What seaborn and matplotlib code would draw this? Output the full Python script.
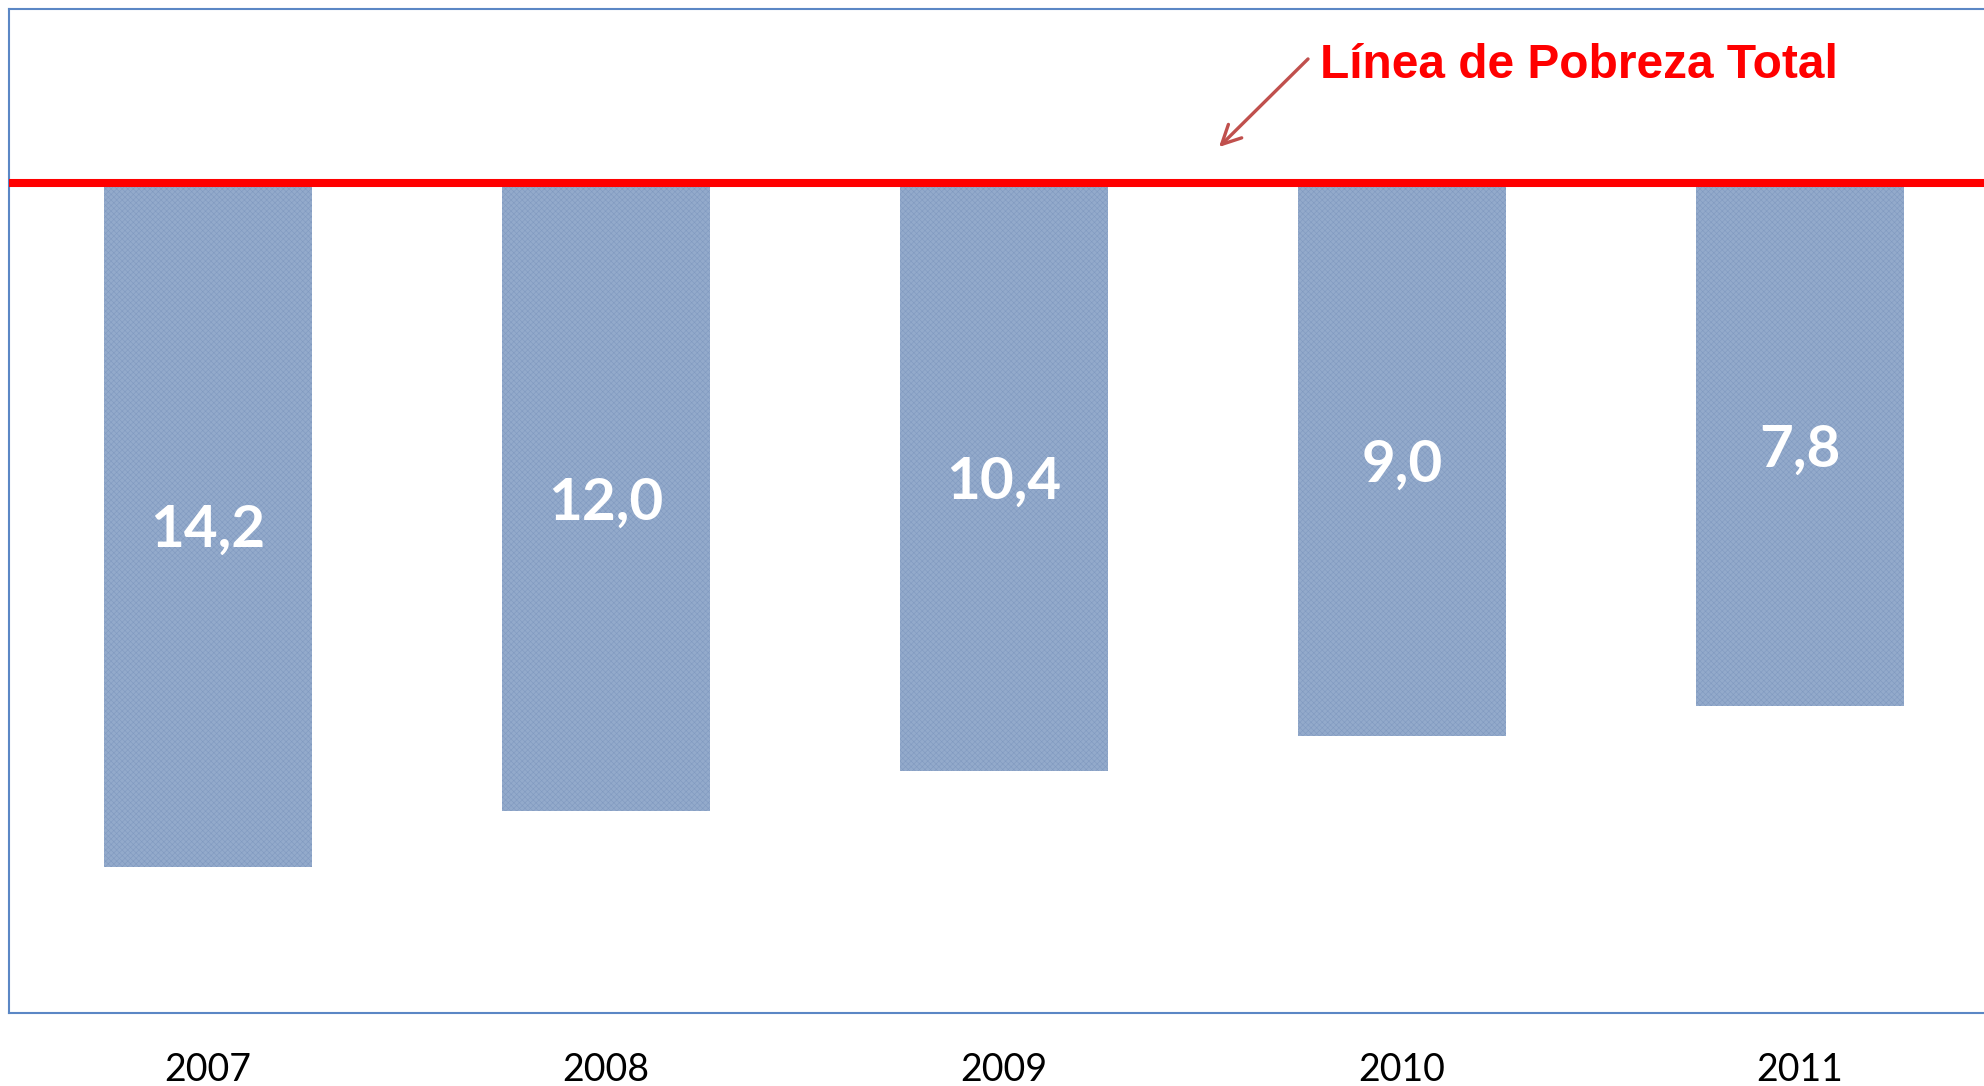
import numpy as np
import pandas as pd
import matplotlib
matplotlib.use("Agg")
import matplotlib.pyplot as plt
import seaborn as sns

# données
annees = ["2007", "2008", "2009", "2010", "2011"]
valeurs = [14.2, 12.0, 10.4, 9.0, 7.8]
etiquettes = ["14,2", "12,0", "10,4", "9,0", "7,8"]
titre_ligne = "Línea de Pobreza Total"

# l'axe vertical est inversé et les barres partent du minimum de l'axe
eje_min = -12.94
y_haut, y_bas = -19.85, 20.0

df = pd.DataFrame({"anio": annees, "valor": valeurs})
df["alto"] = df["valor"] - eje_min

sns.set_theme(style="white")
plt.rcParams["font.family"] = ["Lato", "DejaVu Sans"]
plt.rcParams["hatch.linewidth"] = 0.4

fig = plt.figure(figsize=(19.84, 10.86), dpi=100)
ax = fig.add_axes([9 / 1984, 73 / 1086, 1990 / 1984, 1004 / 1086])

sns.barplot(
    data=df, x="anio", y="alto", bottom=eje_min,
    color="#93AACB", width=0.523, errorbar=None, ax=ax,
    saturation=1, linewidth=0, zorder=2,
)
for barre in ax.patches:
    barre.set_hatch("xxxxxx")
    barre.set_edgecolor("#819AC0")

textes = ax.bar_label(ax.containers[0], labels=etiquettes, label_type="center",
                      color="white", fontsize=42, fontweight="bold",
                      family=["Lato", "DejaVu Sans"])
for t in textes:
    t.xyann = (0, -4)

ax.axhline(eje_min, color="#FF0000", lw=5.8, zorder=4)

ax.set_xlim(-0.5, 4.5)
ax.set_ylim(y_bas, y_haut)
ax.set_xlabel("")
ax.set_ylabel("")
ax.set_yticks([])
ax.tick_params(axis="x", length=0, pad=28, labelsize=27, labelcolor="black")

for s in ax.spines.values():
    s.set_visible(True)
    s.set_color("#5B87C5")
    s.set_linewidth(1.5)

fig.text(1320 / 1984, 1 - 78 / 1086, titre_ligne, color="#FF0000",
         fontsize=34.5, fontweight="bold", family=["Liberation Sans", "DejaVu Sans"],
         va="baseline", ha="left")
ax.annotate("", xy=(1217, 1086 - 149), xycoords="figure pixels",
            xytext=(1310, 1086 - 57), textcoords="figure pixels",
            arrowprops=dict(arrowstyle="->", color="#C0504D", lw=2.4,
                            mutation_scale=34))

fig.savefig("out.png", dpi=100)
